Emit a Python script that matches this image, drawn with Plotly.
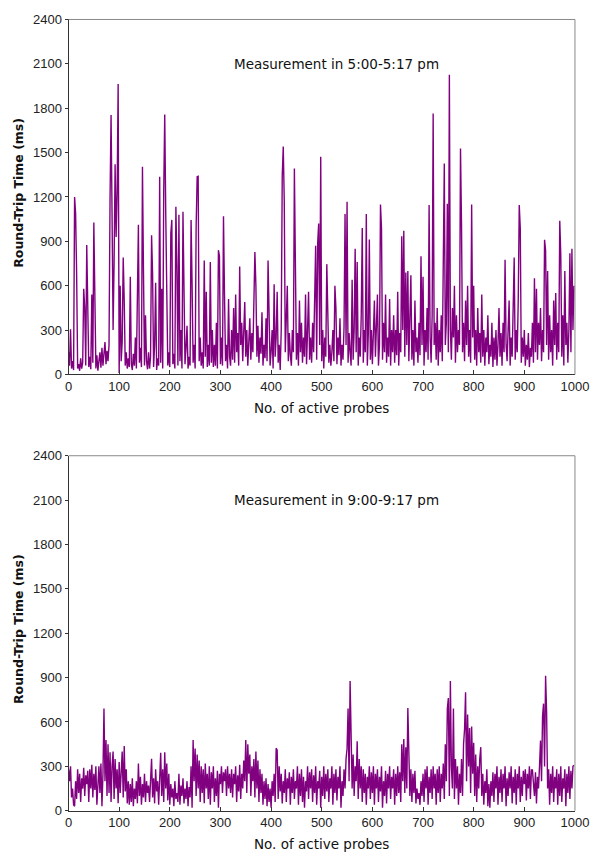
import plotly.graph_objects as go

# ---- data (probe index, step 2) ----
probes = list(range(0, 1000, 2))

rtt_5pm = [
    150, 60, 305, 40, 90, 30, 1200, 1090, 690, 40, 70, 25, 110, 40, 80, 580, 450, 60, 875, 420,
    50, 120, 35, 540, 80, 1027, 560, 40, 130, 25, 90, 150, 45, 180, 60, 120, 220, 70, 160, 90,
    200, 1189, 1754, 1080, 300, 760, 1421, 930, 1240, 1964, 10, 600, 90, 220, 790, 500, 60, 150, 40, 110,
    50, 660, 70, 30, 140, 60, 250, 40, 660, 1012, 80, 180, 50, 1404, 700, 60, 400, 90, 35, 150,
    40, 120, 941, 680, 50, 200, 620, 30, 110, 60, 1337, 80, 580, 40, 1240, 1758, 1080, 430, 60, 150,
    50, 955, 1045, 70, 140, 40, 1134, 740, 60, 1080, 90, 300, 40, 1100, 680, 70, 180, 330, 40, 120,
    60, 1045, 610, 80, 200, 40, 1000, 1337, 1340, 90, 250, 60, 150, 40, 770, 120, 560, 50, 200, 60,
    760, 80, 300, 50, 200, 60, 350, 40, 840, 800, 70, 250, 60, 1070, 540, 90, 200, 40, 510, 120,
    60, 300, 100, 450, 80, 540, 150, 280, 60, 730, 200, 350, 90, 250, 490, 120, 300, 60, 220, 380,
    100, 280, 150, 400, 828, 600, 120, 330, 80, 250, 140, 420, 60, 200, 110, 380, 90, 770, 250, 60,
    150, 300, 40, 610, 120, 250, 560, 80, 200, 30, 300, 1340, 1541, 1170, 150, 350, 600, 90, 280, 130,
    60, 300, 150, 1393, 660, 100, 280, 60, 500, 150, 350, 80, 250, 120, 540, 70, 300, 560, 100, 250,
    80, 350, 150, 420, 870, 100, 890, 1020, 200, 1472, 90, 300, 40, 250, 120, 746, 470, 80, 200, 60,
    150, 300, 90, 600, 450, 70, 250, 130, 380, 60, 200, 100, 320, 1085, 200, 1167, 80, 280, 150, 60,
    640, 100, 300, 850, 150, 760, 60, 250, 120, 400, 990, 80, 300, 150, 1085, 60, 280, 912, 100, 300,
    70, 250, 500, 120, 300, 540, 60, 200, 1149, 990, 100, 350, 150, 540, 80, 250, 120, 510, 60, 300,
    150, 400, 80, 300, 130, 560, 60, 280, 150, 934, 300, 972, 120, 690, 200, 700, 90, 350, 670, 100,
    300, 60, 500, 150, 250, 80, 350, 130, 800, 200, 660, 60, 300, 150, 450, 100, 1145, 250, 80, 400,
    1765, 200, 350, 100, 450, 60, 300, 150, 400, 90, 830, 1426, 200, 350, 1155, 150, 2026, 300, 100, 450,
    250, 600, 80, 400, 150, 300, 200, 1528, 1010, 150, 350, 90, 500, 200, 600, 120, 300, 80, 1149, 250,
    600, 100, 300, 60, 450, 150, 280, 80, 540, 120, 300, 60, 250, 150, 400, 70, 200, 120, 350, 50,
    250, 100, 300, 60, 200, 450, 120, 280, 60, 350, 150, 775, 200, 90, 300, 500, 60, 250, 120, 400,
    790, 100, 300, 150, 500, 1145, 990, 80, 250, 120, 300, 60, 200, 100, 280, 50, 180, 120, 350, 80,
    650, 150, 580, 100, 350, 200, 450, 90, 300, 150, 910, 840, 200, 700, 100, 400, 150, 300, 60, 500,
    200, 550, 100, 350, 150, 1040, 810, 120, 400, 60, 700, 200, 350, 80, 300, 820, 150, 850, 300, 600,
]

rtt_9pm = [
    280, 200, 300, 90, 150, 40, 30, 200, 80, 280, 120, 250, 60, 220, 150, 290, 100, 240, 180, 270,
    60, 280, 150, 310, 90, 250, 140, 300, 40, 220, 300, 120, 320, 30, 250, 691, 200, 478, 100, 450,
    120, 396, 60, 300, 400, 80, 350, 150, 280, 50, 330, 120, 250, 400, 90, 438, 130, 280, 50, 200,
    40, 180, 60, 220, 30, 150, 80, 200, 50, 319, 100, 230, 40, 180, 90, 250, 60, 200, 120, 170,
    60, 250, 352, 90, 220, 50, 280, 130, 200, 40, 300, 392, 100, 280, 60, 396, 150, 320, 70, 250,
    40, 180, 90, 150, 30, 200, 80, 120, 60, 250, 40, 170, 100, 220, 50, 150, 80, 200, 30, 160,
    90, 300, 20, 478, 200, 420, 100, 380, 150, 340, 60, 300, 120, 280, 50, 320, 150, 250, 80, 300,
    40, 260, 150, 300, 60, 220, 100, 270, 20, 250, 180, 300, 120, 260, 200, 280, 100, 300, 150, 250,
    120, 280, 90, 250, 180, 300, 60, 240, 130, 310, 80, 250, 150, 340, 200, 478, 120, 450, 250, 380,
    100, 300, 200, 350, 90, 400, 150, 340, 60, 280, 120, 250, 40, 200, 80, 220, 30, 180, 60, 150,
    20, 200, 100, 250, 60, 423, 410, 80, 300, 130, 250, 50, 200, 120, 280, 60, 220, 150, 260, 40,
    230, 120, 280, 80, 200, 150, 300, 40, 250, 100, 280, 60, 230, 20, 200, 130, 300, 80, 260, 150,
    280, 60, 240, 120, 300, 40, 200, 150, 270, 20, 230, 100, 300, 80, 250, 130, 280, 60, 220, 150,
    300, 40, 250, 120, 280, 70, 230, 150, 300, 20, 200, 100, 280, 150, 350, 420, 691, 200, 877, 480,
    150, 380, 100, 300, 200, 470, 80, 350, 150, 300, 60, 280, 120, 250, 40, 230, 150, 300, 80, 260,
    120, 300, 40, 250, 150, 280, 60, 230, 130, 300, 20, 200, 100, 270, 50, 250, 150, 300, 80, 230,
    150, 280, 40, 250, 100, 300, 120, 260, 60, 450, 200, 485, 120, 430, 150, 695, 300, 100, 280, 60,
    250, 120, 270, 50, 150, 80, 120, 40, 200, 100, 250, 60, 280, 150, 300, 40, 230, 120, 280, 80,
    300, 150, 250, 40, 280, 120, 300, 60, 250, 150, 320, 80, 450, 200, 691, 762, 100, 877, 300, 150,
    691, 80, 350, 150, 300, 40, 250, 120, 350, 100, 450, 551, 801, 200, 651, 300, 560, 120, 570, 250,
    460, 100, 380, 60, 300, 150, 350, 430, 100, 250, 40, 200, 120, 280, 30, 180, 20, 200, 100, 260,
    60, 250, 150, 300, 40, 230, 120, 280, 60, 250, 150, 300, 30, 220, 100, 260, 150, 300, 50, 230,
    120, 280, 40, 250, 150, 300, 60, 230, 100, 270, 180, 280, 70, 250, 150, 300, 80, 275, 275, 200,
    100, 260, 50, 230, 150, 300, 474, 200, 640, 724, 300, 912, 670, 150, 280, 40, 250, 120, 300, 60,
    230, 150, 280, 40, 250, 100, 300, 60, 220, 150, 280, 30, 250, 120, 300, 80, 270, 150, 300, 307,
]

y_ticks = [0, 300, 600, 900, 1200, 1500, 1800, 2100, 2400]
x_ticks = [0, 100, 200, 300, 400, 500, 600, 700, 800, 900, 1000]
panel_labels = ["Measurement in 5:00-5:17 pm", "Measurement in 9:00-9:17 pm"]
y_title = "Round-Trip Time (ms)"
x_title = "No. of active probes"

W, H = 604, 861
LINE = "#800080"

def px_x(p):
    return p / W

def px_y(p):
    return 1 - p / H

x_dom = [px_x(66.5), px_x(588.5)]
top_dom = [px_y(374), px_y(12.7)]
bot_dom = [px_y(818), px_y(456.7)]

fig = go.Figure()
fig.add_trace(go.Scatter(x=probes, y=rtt_5pm, mode="lines",
                         line=dict(color=LINE, width=1.4), xaxis="x", yaxis="y",
                         showlegend=False, hoverinfo="skip"))
fig.add_trace(go.Scatter(x=probes, y=rtt_9pm, mode="lines",
                         line=dict(color=LINE, width=1.4), xaxis="x2", yaxis="y2",
                         showlegend=False, hoverinfo="skip"))

tickfont = dict(family="Liberation Sans, Arial, sans-serif", size=13, color="#222")
xcommon = dict(range=[0, 1000], tickvals=x_ticks, ticks="inside", ticklen=4,
               tickcolor="#333", showline=True, linecolor="#333", linewidth=1,
               showgrid=False, zeroline=False, tickfont=tickfont, domain=x_dom)
ycommon = dict(range=[0, 2400], tickvals=y_ticks, ticks="outside", ticklen=3,
               tickcolor="#333", showline=True, linecolor="#333", linewidth=1,
               showgrid=False, zeroline=False, tickfont=tickfont)

fig.update_layout(
    width=W, height=H,
    margin=dict(l=0, r=0, t=0, b=0),
    paper_bgcolor="white", plot_bgcolor="white",
    xaxis=dict(anchor="y", **xcommon),
    yaxis=dict(anchor="x", domain=top_dom, **ycommon),
    xaxis2=dict(anchor="y2", **xcommon),
    yaxis2=dict(anchor="x2", domain=bot_dom, **ycommon),
)

shapes = []
for xr, yr in [("x", "y"), ("x2", "y2")]:
    shapes.append(dict(type="line", xref=xr + " domain", yref=yr + " domain",
                       x0=0, x1=1, y0=1, y1=1, line=dict(color="#888", width=1)))
    shapes.append(dict(type="line", xref=xr + " domain", yref=yr + " domain",
                       x0=1, x1=1, y0=0, y1=1, line=dict(color="#888", width=1)))
fig.update_layout(shapes=shapes)

annots = []
title_font = dict(family="DejaVu Sans, Verdana, sans-serif", size=13.5, color="#111")
for i, (xr, yr) in enumerate([("x", "y"), ("x2", "y2")]):
    annots.append(dict(x=530, y=2100, xref=xr, yref=yr, text=panel_labels[i],
                       showarrow=False, xanchor="center", yanchor="middle",
                       font=title_font))
offs = [0, 444]
for o in offs:
    annots.append(dict(x=px_x(15), y=px_y(189.5 + o), xref="paper", yref="paper",
                       text="<b>" + y_title + "</b>", textangle=-90, showarrow=False,
                       xanchor="center", yanchor="middle",
                       font=dict(family="DejaVu Sans, Verdana, sans-serif", size=12.5, color="#111")))
    annots.append(dict(x=px_x(327), y=px_y(408 + o), xref="paper", yref="paper",
                       text=x_title, showarrow=False, xanchor="center", yanchor="middle",
                       font=title_font))
fig.update_layout(annotations=annots)

fig.write_html("out.html")
